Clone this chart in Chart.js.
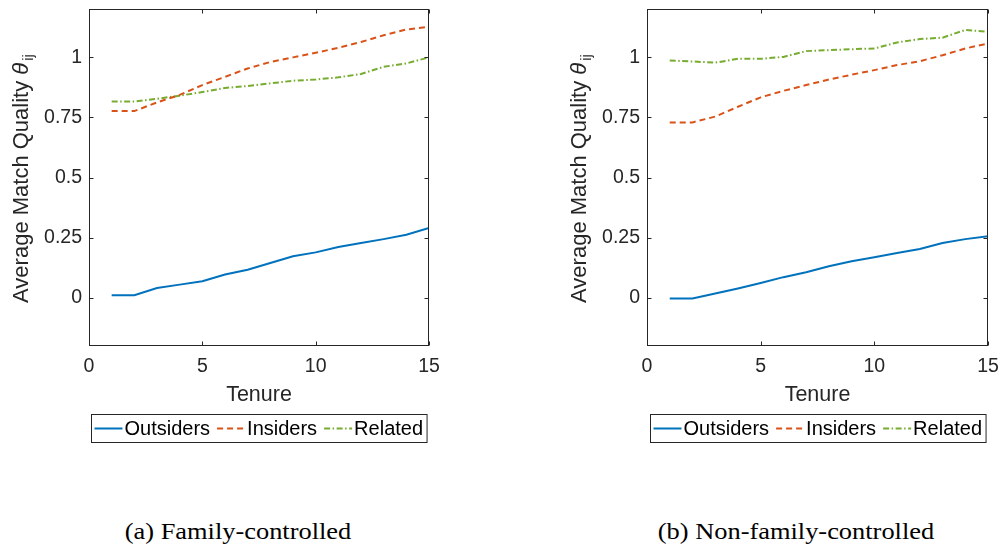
<!DOCTYPE html>
<html>
<head>
<meta charset="utf-8">
<script src="https://cdn.jsdelivr.net/npm/chart.js@4.4.1/dist/chart.umd.min.js"></script>
<style>
  body { margin: 0; background: #fff; width: 1001px; height: 546px; position: relative; overflow: hidden; }
  .panel { position: absolute; top: 0; }
  .caption {
    position: absolute; top: 517px; line-height: 28px;
    font-family: "Liberation Serif", "Times New Roman", serif; font-size: 24px; color: #000;
    white-space: nowrap; transform: translateX(-50%) scaleX(1.1);
  }
</style>
</head>
<body>
<div class="panel" style="left:0"><canvas id="famChart" width="500" height="460"></canvas></div>
<div class="panel" style="left:500px"><canvas id="nonChart" width="501" height="460"></canvas></div>
<div class="caption" id="capA" style="left:238px"></div>
<div class="caption" id="capB" style="left:796px"></div>

<script>
// data
const tenure = [1, 2, 3, 4, 5, 6, 7, 8, 9, 10, 11, 12, 13, 14, 15];
const seriesNames = ['Outsiders', 'Insiders', 'Related'];

const famOutsiders = [0.011, 0.011, 0.041, 0.055, 0.069, 0.097, 0.117, 0.145, 0.173, 0.189, 0.211, 0.228, 0.244, 0.262, 0.290];
const famInsiders  = [0.776, 0.776, 0.812, 0.843, 0.884, 0.918, 0.953, 0.980, 0.999, 1.018, 1.039, 1.063, 1.091, 1.115, 1.126];
const famRelated   = [0.816, 0.816, 0.827, 0.840, 0.855, 0.872, 0.880, 0.891, 0.902, 0.907, 0.916, 0.930, 0.960, 0.974, 0.999];

const nonOutsiders = [-0.003, -0.003, 0.018, 0.039, 0.062, 0.086, 0.106, 0.131, 0.152, 0.169, 0.186, 0.203, 0.228, 0.244, 0.256];
const nonInsiders  = [0.729, 0.729, 0.753, 0.794, 0.833, 0.860, 0.884, 0.907, 0.927, 0.946, 0.967, 0.983, 1.008, 1.036, 1.057];
const nonRelated   = [0.986, 0.982, 0.977, 0.993, 0.993, 1.001, 1.025, 1.029, 1.033, 1.036, 1.061, 1.075, 1.081, 1.113, 1.105];

const xTicks = [0, 5, 10, 15];
const yTicks = [0, 0.25, 0.5, 0.75, 1];
const captions = ['(a)  Family-controlled', '(b)  Non-family-controlled'];

// styles
const FONT = '"Liberation Sans", Arial, Helvetica, sans-serif';
const AXIS = '#262626';
const colors = ['#0072BD', '#D95319', '#77AC30'];
const dashes = [[], [6, 4], [6, 2.5, 1.5, 2.5]];

// MATLAB-like box, inward ticks, y label with subscript and boxed legend
const matlabAxes = {
  id: 'matlabAxes',
  afterDraw(chart, args, opts) {
    const { ctx, chartArea: a, scales: { x, y } } = chart;
    ctx.save();
    ctx.strokeStyle = AXIS;
    ctx.lineWidth = 1;
    const L = Math.round(a.left) + 0.5, R = Math.round(a.right) - 0.5;
    const T = Math.round(a.top) + 0.5, B = Math.round(a.bottom) - 0.5;
    ctx.strokeRect(L, T, R - L, B - T);
    const tl = 4;
    ctx.beginPath();
    x.ticks.forEach(t => {
      const px = Math.round(x.getPixelForValue(t.value)) + 0.5;
      ctx.moveTo(px, B); ctx.lineTo(px, B - tl);
      ctx.moveTo(px, T); ctx.lineTo(px, T + tl);
    });
    y.ticks.forEach(t => {
      const py = Math.round(y.getPixelForValue(t.value)) + 0.5;
      ctx.moveTo(L, py); ctx.lineTo(L + tl, py);
      ctx.moveTo(R, py); ctx.lineTo(R - tl, py);
    });
    ctx.stroke();

    // y axis title: Average Match Quality θ_ij (baseline sits at yTitleX)
    ctx.save();
    ctx.fillStyle = AXIS;
    ctx.textBaseline = 'alphabetic';
    ctx.translate(opts.yTitleX, (a.top + a.bottom) / 2 + 1);
    ctx.rotate(-Math.PI / 2);
    const main = 'Average Match Quality ';
    ctx.font = '22px ' + FONT;
    const w1 = ctx.measureText(main).width;
    ctx.font = 'italic 22px ' + FONT;
    const w2 = ctx.measureText('θ').width;
    ctx.font = '15px ' + FONT;
    const w3 = ctx.measureText('ij').width;
    let sx = -(w1 + w2 + w3 + 2) / 2;
    ctx.font = '22px ' + FONT;
    ctx.fillText(main, sx, 0);
    ctx.font = 'italic 22px ' + FONT;
    ctx.fillText('θ', sx + w1, 0);
    ctx.font = '15px ' + FONT;
    ctx.fillText('ij', sx + w1 + w2 + 2, 5);
    ctx.restore();

    // legend
    ctx.font = opts.legendFont + 'px ' + FONT;
    const ds = chart.data.datasets;
    const sampleW = 28, gapIn = 2, gapOut = 7, padL = 3, padR = 4;
    const widths = ds.map(d => ctx.measureText(d.label).width);
    let total = padL + padR + gapOut * (ds.length - 1);
    widths.forEach(w => { total += sampleW + gapIn + w; });
    const bx = Math.round((a.left + a.right) / 2 - total / 2) + 0.5;
    const by = opts.legendTop + 0.5, bh = 28;
    ctx.strokeStyle = AXIS;
    ctx.setLineDash([]);
    ctx.strokeRect(bx, by, total, bh);
    const cy = by + bh / 2;
    let cx = bx + padL;
    ds.forEach((d, i) => {
      ctx.save();
      ctx.strokeStyle = d.borderColor;
      ctx.lineWidth = 2;
      ctx.setLineDash(d.borderDash || []);
      ctx.beginPath();
      ctx.moveTo(cx, cy); ctx.lineTo(cx + sampleW, cy);
      ctx.stroke();
      ctx.restore();
      ctx.fillStyle = '#000';
      ctx.textBaseline = 'middle';
      ctx.fillText(d.label, cx + sampleW + gapIn, cy + 1);
      cx += sampleW + gapIn + widths[i] + gapOut;
    });
    ctx.restore();
  }
};

function makeChart(id, series, geo) {
  const datasets = series.map((vals, i) => ({
    label: seriesNames[i],
    data: vals.map((v, k) => ({ x: tenure[k], y: v })),
    borderColor: colors[i],
    borderDash: dashes[i],
    borderWidth: 2,
    pointRadius: 0,
    tension: 0,
    fill: false
  }));
  return new Chart(document.getElementById(id), {
    type: 'line',
    data: { datasets },
    plugins: [matlabAxes],
    options: {
      responsive: false,
      animation: false,
      layout: { padding: { left: 0, top: 9, right: geo.padRight, bottom: 52 } },
      plugins: {
        legend: { display: false },
        tooltip: { enabled: false },
        matlabAxes: { yTitleX: geo.yTitleX, legendTop: 414, legendFont: 20 }
      },
      scales: {
        x: {
          type: 'linear', min: 0, max: 15,
          afterBuildTicks: s => { s.ticks = xTicks.map(v => ({ value: v })); },
          afterFit: s => { s.height = 62; s.paddingLeft = 0; s.paddingRight = 0; },
          grid: { display: false, drawTicks: false },
          border: { display: false },
          ticks: { padding: 9, color: AXIS, font: { family: FONT, size: 19.5 }, maxRotation: 0, callback: v => String(v) },
          title: { display: true, text: 'Tenure', color: AXIS, padding: 0, font: { family: FONT, size: 21.5 } }
        },
        y: {
          type: 'linear', min: -0.2, max: 1.2,
          afterBuildTicks: s => { s.ticks = yTicks.map(v => ({ value: v })); },
          afterFit: s => { s.width = geo.areaLeft; s.paddingTop = 0; s.paddingBottom = 0; },
          grid: { display: false, drawTicks: false },
          border: { display: false },
          ticks: { padding: 7, color: AXIS, font: { family: FONT, size: 19.5 }, callback: v => String(v) }
        }
      }
    }
  });
}

makeChart('famChart', [famOutsiders, famInsiders, famRelated], { areaLeft: 89, padRight: 71, yTitleX: 28 });
makeChart('nonChart', [nonOutsiders, nonInsiders, nonRelated], { areaLeft: 147, padRight: 13, yTitleX: 86 });

document.getElementById('capA').textContent = captions[0];
document.getElementById('capB').textContent = captions[1];
</script>
</body>
</html>
